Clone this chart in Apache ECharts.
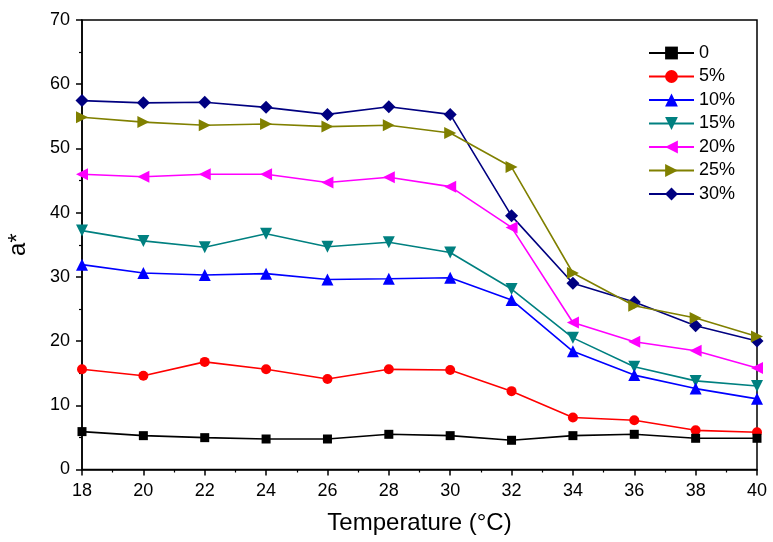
<!DOCTYPE html>
<html><head><meta charset="utf-8">
<script src="https://cdn.jsdelivr.net/npm/echarts@6/dist/echarts.min.js"></script>
<style>html,body{margin:0;padding:0;background:#fff}#c{width:773px;height:542px}</style>
</head><body><div id="c"></div>
<script>
var temps = [18,20,22,24,26,28,30,32,34,36,38,40];
var names = ['0','5%','10%','15%','20%','25%','30%'];
var s0  = [5.9,5.27,4.96,4.75,4.75,5.48,5.27,4.55,5.27,5.48,4.86,4.86];
var s5  = [15.6,14.6,16.76,15.6,14.1,15.6,15.5,12.2,8.1,7.67,6.1,5.8];
var s10 = [31.9,30.6,30.3,30.5,29.6,29.7,29.86,26.4,18.4,14.7,12.6,11.0];
var s15 = [37.2,35.6,34.6,36.7,34.7,35.4,33.8,28.1,20.5,16.0,13.8,13.0];
var s20 = [45.97,45.6,45.97,45.97,44.7,45.5,44.05,37.7,22.9,19.9,18.5,15.8];
var s25 = [54.85,54.1,53.6,53.8,53.4,53.6,52.4,47.1,30.6,25.5,23.6,20.7];
var s30 = [57.45,57.1,57.2,56.4,55.3,56.5,55.3,39.5,29.0,26.07,22.4,20.0];
var yTicks = [0,10,20,30,40,50,60,70];

var allData = [s0,s5,s10,s15,s20,s25,s30];
var colors = ['#000000','#ff0000','#0000ff','#008080','#ff00ff','#808000','#000080'];
var symbols = ['rect','circle','triangle','triangle','triangle','triangle','diamond'];
var rotates = [0,0,0,180,90,-90,0];
var sizes = [9,10,12,12,12,12,13];

var series = allData.map(function(arr,i){
  return {
    name: names[i], type:'line',
    data: arr.map(function(v,j){return [temps[j], v];}),
    symbol: symbols[i], symbolSize: sizes[i], symbolRotate: rotates[i],
    lineStyle:{color:colors[i], width:1.6},
    itemStyle:{color:colors[i]},
    emphasis:{disabled:true},
    animation:false, z: 10 - i
  };
});

var chart = echarts.init(document.getElementById('c'), null, {renderer:'canvas'});
chart.setOption({
  animation:false,
  backgroundColor:'#ffffff',
  textStyle:{fontFamily:'Liberation Sans, Arial, sans-serif'},
  grid:{left:82, top:20, right:16, bottom:72.5, show:true, borderColor:'#000', borderWidth:1.5, backgroundColor:'transparent', containLabel:false, outerBoundsMode:'none'},
  legend:{
    orient:'vertical', left:643, top:39, itemWidth:45, itemHeight:16, itemGap:5.5,
    data: names,
    textStyle:{fontSize:18, color:'#000', fontFamily:'Liberation Sans, Arial, sans-serif', lineHeight:18},
    symbolRotate:'inherit'
  },
  xAxis:{
    type:'value', min:18, max:40, interval:2,
    name:'Temperature (°C)', nameLocation:'middle', nameGap:42,
    nameTextStyle:{fontSize:24, color:'#000', fontFamily:'Liberation Sans, Arial, sans-serif'},
    axisLine:{lineStyle:{color:'#000', width:1.5}},
    axisTick:{show:true, inside:false, length:6, lineStyle:{color:'#000', width:1.5}},
    minorTick:{show:true, splitNumber:2, length:3, lineStyle:{color:'#000', width:1.2}},
    axisLabel:{fontSize:18, color:'#000', margin:13},
    splitLine:{show:false}
  },
  yAxis:{
    type:'value', min:0, max:70, interval:10,
    name:'a*', nameLocation:'middle', nameGap:52, nameRotate:90,
    nameTextStyle:{fontSize:24, color:'#000', fontFamily:'Liberation Sans, Arial, sans-serif'},
    axisLine:{lineStyle:{color:'#000', width:1.5}},
    axisTick:{show:true, inside:false, length:6, lineStyle:{color:'#000', width:1.5}},
    minorTick:{show:true, splitNumber:2, length:3, lineStyle:{color:'#000', width:1.2}},
    axisLabel:{fontSize:18, color:'#000', margin:12, formatter:function(v){return yTicks.indexOf(v)>=0?String(v):'';}},
    splitLine:{show:false}
  },
  series: series
});
</script></body></html>
